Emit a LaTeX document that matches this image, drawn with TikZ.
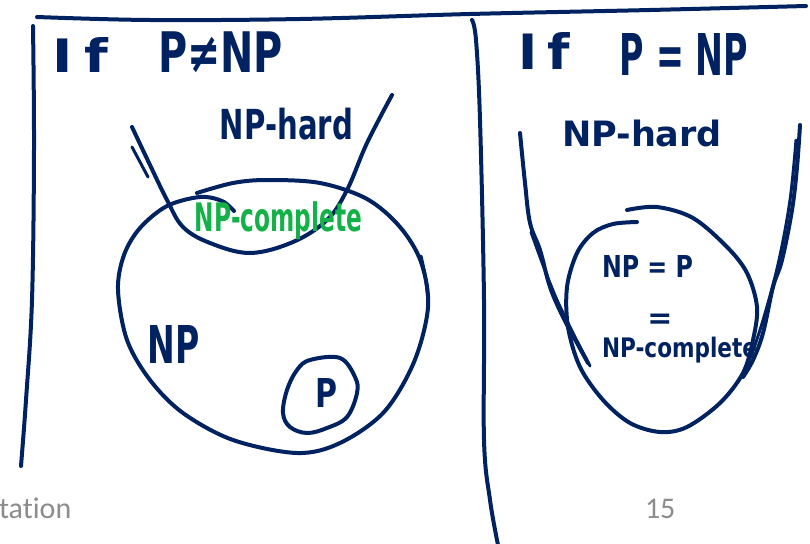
\documentclass[tikz,border=0pt]{standalone}
\usepackage{fontspec}
\usepackage{graphicx}
\newfontfamily\hwfont{DejaVu Sans}
\newfontfamily\carlitofont[Ligatures=NoCommon]{Carlito}
\definecolor{ink}{RGB}{0,34,96}
\definecolor{inkgreen}{RGB}{20,176,72}
\definecolor{footgray}{RGB}{140,140,140}
\newcommand{\hwtext}[3]{\resizebox*{#1pt}{#2pt}{\hwfont\bfseries #3}}
\tikzset{
  pen/.style={draw=ink, line width=4pt, line cap=round, line join=round},
  thinpen/.style={draw=ink, line width=3pt, line cap=round, line join=round},
  hw/.style={inner sep=0pt, outer sep=0pt, text=ink},
  hwg/.style={inner sep=0pt, outer sep=0pt, text=inkgreen},
  foot/.style={inner sep=0pt, outer sep=0pt, text=footgray, font=\carlitofont\fontsize{30}{30}\selectfont}
}
\begin{document}
\begin{tikzpicture}[x=1pt,y=-1pt]
\useasboundingbox[fill=white] (0,0) rectangle (810,543);

% frame lines
\draw[pen] plot[smooth, tension=0.6] coordinates {(37,17) (150,20) (300,19) (470,14) (650,10) (806,6)};
\draw[pen] plot[smooth, tension=0.6] coordinates {(33,26) (34,150) (32,300) (26,400) (21,466)};
\draw[pen] plot[smooth, tension=0.6] coordinates {(472,20) (476,40) (480,120) (484,300) (484,440) (490,500) (498,545)};

% ---- left panel ----
% NP-hard curve
\draw[pen] plot[smooth, tension=0.6] coordinates {(132,127) (150,165) (167,200) (183,227) (210,243) (250,253) (293,242) (327,220) (347,190) (367,143) (392,95)};
\draw[thinpen] plot[smooth, tension=0.6] coordinates {(132,147) (140,162) (148,177)};
% NP circle
\draw[pen] plot[smooth, tension=0.55] coordinates {(197,193) (233,183) (267,180) (320,183) (367,199) (400,227) (421,262) (428,307) (414,362) (384,412) (340,443) (297,453) (233,440) (183,413) (150,380) (127,340) (118,290) (124,255) (140,228) (167,206) (200,197) (222,201) (234,211)};
\draw[thinpen] plot[smooth, tension=0.6] coordinates {(421,256) (425,275) (428,300)};
% P circle
\draw[pen] plot[smooth cycle, tension=0.6] coordinates {(310,360) (340,358) (355,377) (357,393) (347,417) (327,428) (307,433) (290,427) (283,413) (287,390) (297,370)};

% ---- right panel ----
\draw[pen] plot[smooth, tension=0.6] coordinates {(520,133) (525,183) (530,223) (540,250) (550,287) (563,317) (577,343) (588,363)};
\draw[thinpen] plot[smooth, tension=0.6] coordinates {(531,232) (543,265) (557,300) (573,333) (590,366)};
\draw[pen] plot[smooth, tension=0.6] coordinates {(800,125) (797,167) (792,210) (782,260) (773,287) (763,333) (753,360) (743,377)};
\draw[thinpen] plot[smooth, tension=0.6] coordinates {(796,140) (790,200) (779,260) (766,310) (755,345) (746,368)};
\draw[pen] plot[smooth, tension=0.55] coordinates {(627,210) (657,207) (693,218) (727,247) (747,273) (757,307) (753,340) (743,373) (720,403) (687,427) (660,432) (630,423) (603,400) (580,367) (568,327) (567,287) (577,253) (593,233) (613,224) (637,222)};

% ---- texts ----
\node[hw] (ifl) at (80.5,54.5) {\hwtext{55}{35}{I\kern0.2em f}};
\node[hw] (pnenp) at (220.5,52.5) {\hwtext{125}{41}{P≠NP}};
\node[hw] (ifr) at (544,51.5) {\hwtext{52}{37}{I\kern0.2em f}};
\node[hw] (peqnp) at (684,54) {\hwtext{128}{42}{P = NP}};
\node[hw] (hardl) at (286.5,124) {\hwtext{133}{32}{NP-hard}};
\node[hw] (hardr) at (642,133.5) {\hwtext{160}{27}{NP-hard}};
\node[hwg] (compl) at (278.5,221) {\hwtext{167}{38}{NP-complete}};
\node[hw] (np) at (174,344) {\hwtext{52}{38}{NP}};
\node[hw] (p) at (326,392.5) {\hwtext{22}{29}{P}};
\node[hw] (npeqp) at (647.5,266) {\hwtext{91}{22}{NP = P}};
\node[hw, anchor=base, font=\hwfont\bfseries\fontsize{30}{30}\selectfont] (eq) at (660,328) {=};
\node[hw] (compr) at (679.5,350) {\hwtext{155}{26}{NP-complete}};

\node[foot, anchor=base west] (footl) at (-1,518) {tation};
\node[foot, anchor=base west] (footr) at (645,518) {15};
\end{tikzpicture}
\end{document}
